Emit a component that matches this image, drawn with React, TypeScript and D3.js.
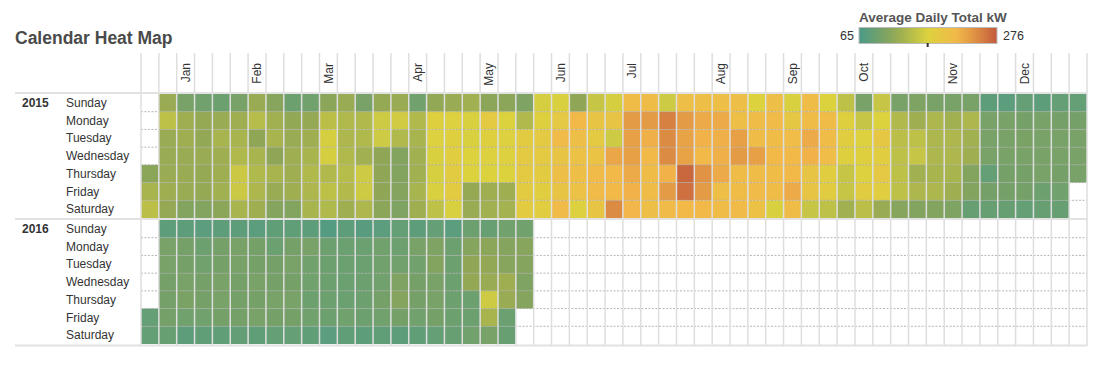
import React from "react";
import * as d3 from "d3";

// weekday rows, one value per calendar week column (null = no day)
const days = ["Sunday", "Monday", "Tuesday", "Wednesday", "Thursday", "Friday", "Saturday"];
const monthNames = ["Jan", "Feb", "Mar", "Apr", "May", "Jun", "Jul", "Aug", "Sep", "Oct", "Nov", "Dec"];
const monthWeeks = [2, 6, 10, 15, 19, 23, 27, 32, 36, 40, 45, 49];
const years = [2015, 2016];

const sun2015 = [null,125,100,95,92,100,125,112,92,95,115,125,100,122,125,95,120,125,130,115,115,105,165,168,118,155,165,210,210,160,205,205,205,205,170,205,168,210,170,150,100,155,100,105,100,100,100,80,78,85,80,85,85];
const mon2015 = [null,150,128,122,125,128,145,130,120,122,148,140,140,160,162,140,175,172,168,185,170,140,175,188,215,195,195,235,235,252,235,225,225,205,210,212,190,210,210,175,155,170,140,128,138,130,138,100,100,98,100,98,98];
const tue2015 = [null,125,128,120,135,135,118,135,125,128,165,138,140,160,140,135,172,175,168,175,172,180,185,212,205,185,160,232,222,245,230,220,222,232,210,210,208,225,210,178,172,190,148,150,138,138,130,100,100,102,100,100,100];
const wed2015 = [null,125,125,125,128,140,135,118,128,135,165,140,130,118,108,130,168,178,170,172,172,185,185,195,200,198,228,232,215,245,230,215,222,235,232,215,215,220,208,175,175,178,150,155,138,138,128,100,100,100,100,100,100];
const thu2015 = [115,125,125,122,128,158,140,135,128,140,140,145,160,118,108,130,166,180,170,170,170,185,182,205,205,212,215,225,210,220,268,240,225,210,210,210,215,195,178,155,172,188,150,130,135,135,108,85,98,98,100,98,100];
const fri2015 = [135,128,125,122,130,158,138,125,128,138,150,142,160,118,110,135,168,182,122,128,128,182,178,195,200,212,215,220,210,235,262,235,205,210,212,210,225,195,180,155,180,178,150,138,138,128,108,98,98,98,92,95,null];
const sat2015 = [148,122,108,108,115,135,128,110,108,135,140,128,138,115,105,128,150,168,125,130,132,182,178,212,172,195,245,218,205,212,215,215,210,212,200,168,210,155,150,130,148,125,112,108,108,105,88,88,88,85,88,88,null];

const sun2016 = [null,80,80,78,80,80,78,82,82,80,72,80,75,78,85,80,85,78,92,88,95,95];
const mon2016 = [null,100,98,92,98,100,98,90,98,100,92,90,90,95,92,100,105,92,110,115,110,112];
const tue2016 = [null,100,98,95,98,100,98,98,100,95,92,90,90,95,95,95,108,92,118,120,112,110];
const wed2016 = [null,98,100,98,100,98,100,98,98,95,92,90,92,95,105,98,100,92,120,125,128,105];
const thu2016 = [null,98,102,98,100,98,98,100,100,92,92,90,92,98,110,98,100,92,92,160,125,110];
const fri2016 = [85,98,95,95,98,98,100,98,98,95,92,95,92,95,98,95,98,92,92,135,90,null];
const sat2016 = [85,88,80,82,82,84,82,85,85,82,78,82,80,82,80,82,85,88,95,100,88,null];

const rows2015 = [sun2015, mon2015, tue2015, wed2015, thu2015, fri2015, sat2015];
const rows2016 = [sun2016, mon2016, tue2016, wed2016, thu2016, fri2016, sat2016];

const minVal = 65;
const maxVal = 276;
const midVal = 170;

const font = "'Liberation Sans', Arial, sans-serif";

export default function App() {
  const width = 1115;
  const height = 372;
  const left = 141;
  const right = 1087;
  const headerTop = 53;

  const x = d3.scaleBand<number>().domain(d3.range(53)).range([left, right]);
  const blocks = [
    { year: years[0], rows: rows2015, y: d3.scaleBand<number>().domain(d3.range(7)).range([94, 218]) },
    { year: years[1], rows: rows2016, y: d3.scaleBand<number>().domain(d3.range(7)).range([220, 344]) },
  ];

  const color = d3
    .scaleLinear<string>()
    .domain([minVal, 118, midVal, 217, maxVal])
    .range(["#4a9a88", "#8fa656", "#dcd23e", "#f3b84a", "#c25a3c"]);

  // legend
  const lx = d3.scaleLinear().domain([minVal, maxVal]).range([859, 997]);
  const stops = d3.range(0, 1.001, 0.1);

  const bounds = x.domain().map((d) => x(d)!).concat([right]);

  return (
    <svg width={width} height={height} style={{ position: "absolute", left: 0, top: 0, background: "white" }}>
      <defs>
        <linearGradient id="legendGrad" x1="0" x2="1" y1="0" y2="0">
          {stops.map((t) => (
            <stop key={t} offset={t} stopColor={color(minVal + t * (maxVal - minVal))} />
          ))}
        </linearGradient>
      </defs>

      <text x={15} y={44} fontFamily={font} fontWeight="bold" fontSize={17.5} fill="#4a4a4a">
        Calendar Heat Map
      </text>

      {/* legend */}
      <text x={lx(minVal)} y={22} fontFamily={font} fontWeight="bold" fontSize={13.5} fill="#555">
        Average Daily Total kW
      </text>
      <rect x={lx(minVal)} y={27.5} width={lx(maxVal) - lx(minVal)} height={16} fill="url(#legendGrad)" stroke="#bbb" />
      <rect x={lx(midVal) - 1} y={43} width={2} height={4} fill="#333" />
      <text x={lx(minVal) - 5} y={36} dy="0.35em" textAnchor="end" fontFamily={font} fontSize={12.5} fill="#333">
        {minVal}
      </text>
      <text x={lx(maxVal) + 6} y={36} dy="0.35em" fontFamily={font} fontSize={12.5} fill="#333">
        {maxVal}
      </text>

      {/* month labels */}
      {monthWeeks.map((w, i) => (
        <text
          key={monthNames[i]}
          transform={`translate(${x(w)! + x.bandwidth() / 2},63) rotate(-90)`}
          dy="0.35em"
          textAnchor="end"
          fontFamily={font}
          fontSize={12}
          fill="#333"
        >
          {monthNames[i]}
        </text>
      ))}

      {/* cells */}
      {blocks.map((b) =>
        b.rows.map((row, r) =>
          row.map((v, w) =>
            v == null ? null : (
              <rect key={`${b.year}-${r}-${w}`} x={x(w)} y={b.y(r)} width={x.bandwidth()} height={b.y.bandwidth()} fill={color(v)} />
            )
          )
        )
      )}

      {/* dotted row separators */}
      {blocks.map((b) =>
        d3.range(1, 7).map((r) => (
          <line
            key={`dot-${b.year}-${r}`}
            x1={left}
            x2={right}
            y1={b.y(r)}
            y2={b.y(r)}
            stroke="#a8a8a8"
            strokeOpacity={0.85}
            strokeWidth={1}
            strokeDasharray="2,1.5"
          />
        ))
      )}

      {/* column lines */}
      {bounds.map((bx, i) => (
        <line key={`v-${i}`} x1={bx} x2={bx} y1={headerTop} y2={346} stroke="#dedede" strokeWidth={1.5} />
      ))}

      {/* horizontal rules */}
      {[93, 219, 345.5].map((yy) => (
        <line key={`h-${yy}`} x1={15} x2={right} y1={yy} y2={yy} stroke="#e2e2e2" strokeWidth={2} />
      ))}

      {/* row labels */}
      {blocks.map((b) => (
        <g key={`lab-${b.year}`}>
          <text x={22} y={b.y(0)! + b.y.bandwidth() / 2} dy="0.35em" fontFamily={font} fontWeight="bold" fontSize={12} fill="#333">
            {b.year}
          </text>
          {days.map((d, r) => (
            <text key={d} x={66} y={b.y(r)! + b.y.bandwidth() / 2} dy="0.35em" fontFamily={font} fontSize={12} fill="#333">
              {d}
            </text>
          ))}
        </g>
      ))}
    </svg>
  );
}
